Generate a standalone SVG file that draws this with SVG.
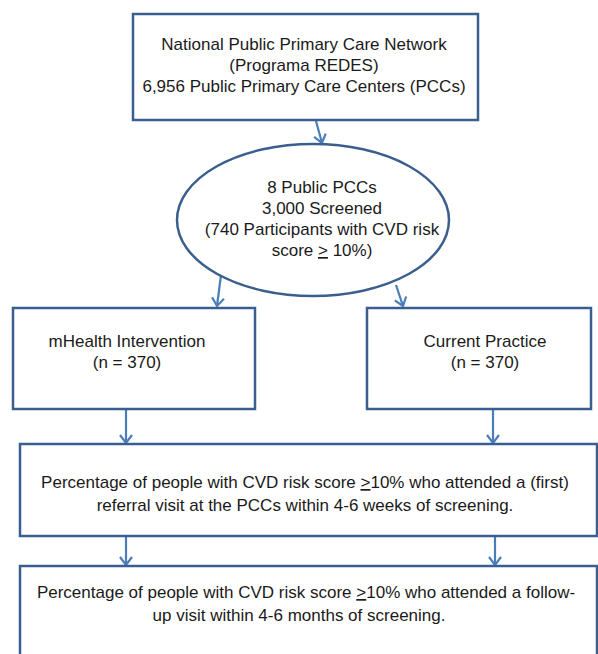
<svg xmlns="http://www.w3.org/2000/svg" width="598" height="654" viewBox="0 0 598 654">
<defs>
<style>
.box{fill:#ffffff;stroke:#3A5F8E;stroke-width:2.5}
.t{font-family:"Liberation Sans",Arial,sans-serif;font-size:17px;fill:#1a1a1a;text-anchor:middle}
.c{fill:none;stroke:#4A7EBB;stroke-width:2.2}
.u{text-decoration:underline}
</style>
<marker id="ah" markerUnits="userSpaceOnUse" viewBox="0 0 12 14" refX="10" refY="7" markerWidth="12" markerHeight="14" orient="auto">
<polyline points="2,1 10,7 2,13" fill="none" stroke="#4A7EBB" stroke-width="2.2"/>
</marker>
</defs>
<rect width="598" height="654" fill="#ffffff"/>
<g id="connectors">
<line class="c" x1="316" y1="121" x2="322" y2="143" marker-end="url(#ah)"/>
<line class="c" x1="221" y1="275" x2="217" y2="306" marker-end="url(#ah)"/>
<line class="c" x1="396" y1="285" x2="403" y2="306" marker-end="url(#ah)"/>
<line class="c" x1="126" y1="410" x2="126" y2="443" marker-end="url(#ah)"/>
<line class="c" x1="493" y1="410" x2="493" y2="443" marker-end="url(#ah)"/>
<line class="c" x1="126" y1="537" x2="126" y2="565" marker-end="url(#ah)"/>
<line class="c" x1="495" y1="537" x2="495" y2="565" marker-end="url(#ah)"/>
</g>
<g id="network">
<rect class="box" x="133" y="14" width="345" height="106"/>
<text class="t" x="304" y="50">National Public Primary Care Network</text>
<text class="t" x="304" y="71">(Programa REDES)</text>
<text class="t" x="304" y="92">6,956 Public Primary Care Centers (PCCs)</text>
</g>
<g id="screened">
<ellipse class="box" cx="313" cy="220" rx="136" ry="76"/>
<text class="t" x="322" y="193">8 Public PCCs</text>
<text class="t" x="322" y="214">3,000 Screened</text>
<text class="t" x="322" y="235">(740 Participants with CVD risk</text>
<text class="t" x="322" y="256">score <tspan class="u">&gt;</tspan> 10%)</text>
</g>
<g id="mhealth">
<rect class="box" x="13" y="308" width="242" height="101"/>
<text class="t" x="127" y="347">mHealth Intervention</text>
<text class="t" x="127" y="368">(n = 370)</text>
</g>
<g id="current">
<rect class="box" x="367" y="308" width="224" height="101"/>
<text class="t" x="485" y="347">Current Practice</text>
<text class="t" x="485" y="368">(n = 370)</text>
</g>
<g id="referral">
<rect class="box" x="20" y="444" width="577" height="92"/>
<text class="t" x="305" y="488">Percentage of people with CVD risk score <tspan class="u">&gt;</tspan>10% who attended a (first)</text>
<text class="t" x="305" y="511">referral visit at the PCCs within 4-6 weeks of screening.</text>
</g>
<g id="followup">
<rect class="box" x="20" y="566" width="577" height="100"/>
<text class="t" x="306" y="598">Percentage of people with CVD risk score <tspan class="u">&gt;</tspan>10% who attended a follow-</text>
<text class="t" x="299" y="621">up visit within 4-6 months of screening.</text>
</g>
</svg>
